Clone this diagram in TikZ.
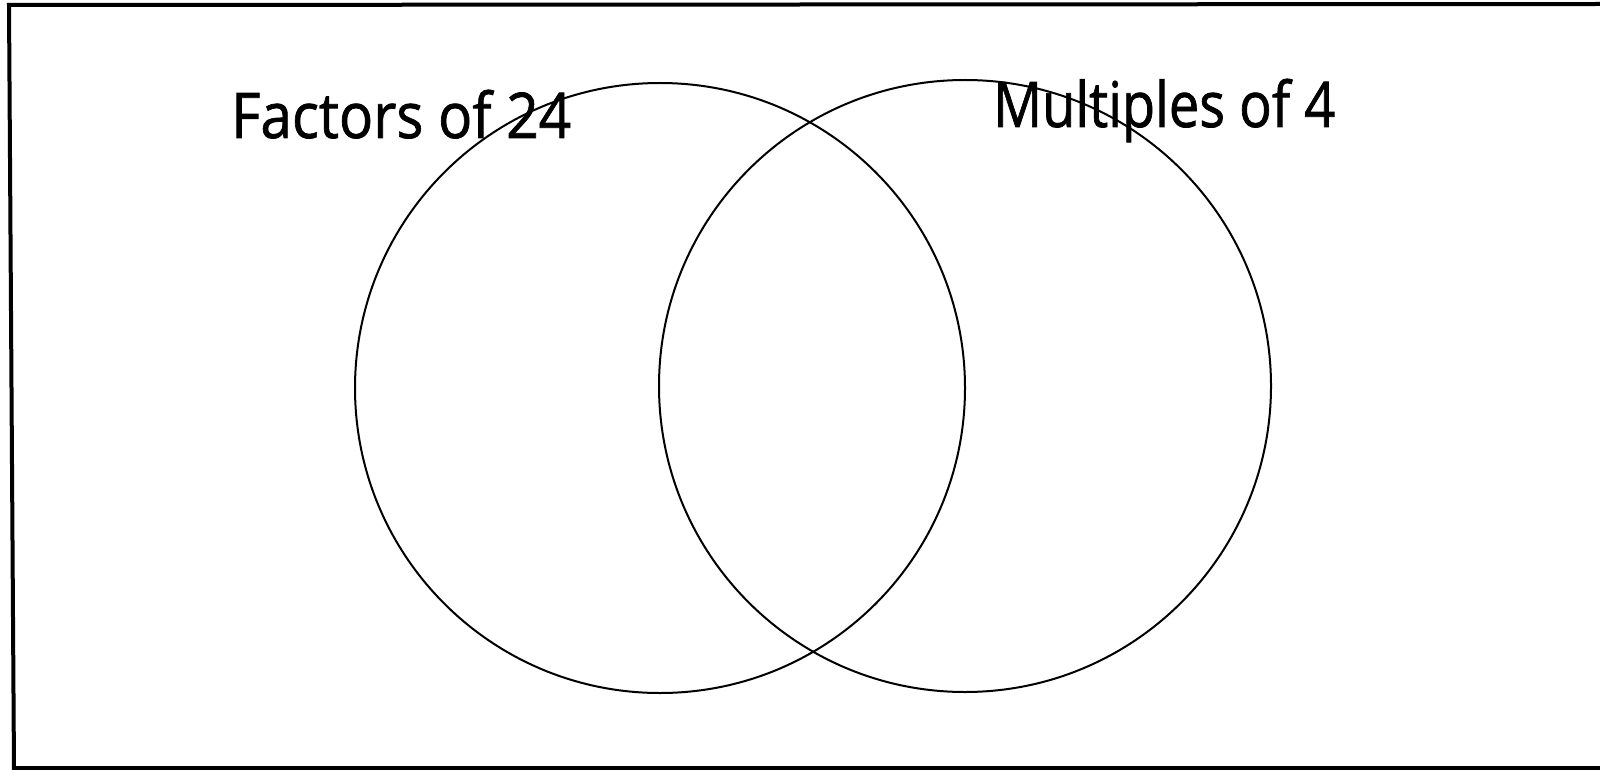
\documentclass[tikz,border=0pt]{standalone}
\usepackage{fontspec}
\setmainfont{Open Sans}
\newfontfamily\labfont[FakeBold=1.2]{Open Sans}
\begin{document}
\begin{tikzpicture}[x=1pt,y=-1pt,
  setcircle/.style={draw=black,line width=2pt},
  label/.style={inner sep=0pt,font=\labfont\fontsize{63}{66}\selectfont}]
\useasboundingbox (0,0) rectangle (1600,770);
\fill[white] (0,0) rectangle (1600,770);
\draw[line width=4pt] (1600,4) -- (9,5) -- (14,770);
\draw[line width=4pt] (12,768) -- (1600,768);
\node[setcircle,circle,minimum size=610pt,inner sep=0pt] (A) at (660,388) {};
\node[setcircle,circle,minimum size=612pt,inner sep=0pt] (B) at (965,386) {};
\node[label,anchor=base west] (fa) at (231,138) {\scalebox{0.9}[1]{Factors of 24}};
\node[label,anchor=base west] (mu) at (993,127) {\scalebox{0.86}[1]{Multiples of 4}};
\end{tikzpicture}
\end{document}
